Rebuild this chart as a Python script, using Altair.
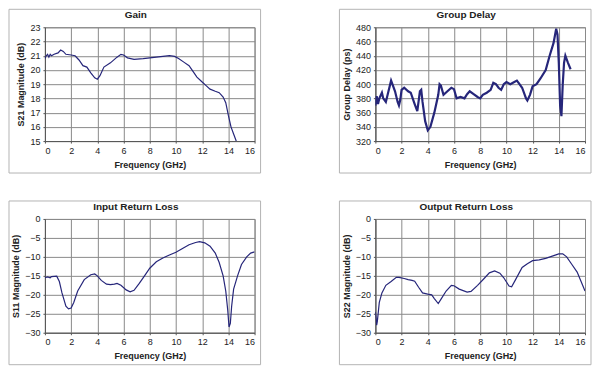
import altair as alt
import pandas as pd

# ---------------- data ----------------
gain_f = [0.0, 0.1, 0.2, 0.3, 0.4, 0.5, 0.7, 1.0, 1.2, 1.4, 1.6, 2.0, 2.3, 2.6, 2.9, 3.2, 3.5, 3.8,
          4.0, 4.2, 4.5, 5.0, 5.5, 5.8, 6.0, 6.3, 6.8, 7.5, 8.0, 8.5, 9.0, 9.5, 9.9, 10.2, 10.6,
          11.0, 11.3, 11.6, 12.0, 12.3, 12.6, 13.0, 13.3, 13.6, 13.8, 14.0, 14.2, 14.4, 14.6]
gain_v = [20.8, 21.0, 21.1, 20.9, 21.1, 21.0, 21.1, 21.2, 21.4, 21.3, 21.1, 21.05, 21.0, 20.7, 20.3,
          20.2, 19.8, 19.45, 19.35, 19.6, 20.2, 20.5, 20.9, 21.1, 21.05, 20.85, 20.75, 20.8, 20.85,
          20.9, 20.95, 21.0, 20.95, 20.8, 20.55, 20.3, 19.9, 19.5, 19.15, 18.9, 18.65, 18.5, 18.4,
          18.1, 17.7, 16.8, 16.0, 15.5, 15.0]

gd_f = [0.0, 0.1, 0.2, 0.3, 0.5, 0.6, 0.8, 1.0, 1.2, 1.3, 1.5, 1.7, 1.8, 1.9, 2.0, 2.2, 2.5, 2.7,
        3.0, 3.2, 3.4, 3.5, 3.6, 3.8, 4.0, 4.2, 4.5, 4.8, 4.9, 5.0, 5.2, 5.5, 5.8, 6.0, 6.2, 6.5,
        6.8, 7.0, 7.2, 7.5, 7.8, 8.0, 8.2, 8.5, 8.8, 9.0, 9.2, 9.4, 9.6, 9.8, 10.0, 10.3, 10.5,
        10.8, 11.0, 11.2, 11.5, 11.6, 11.8, 12.0, 12.3, 12.6, 13.0, 13.3, 13.6, 13.8, 13.9, 14.0,
        14.1, 14.2, 14.3, 14.4, 14.5, 14.7, 14.9]
gd_v = [370, 383, 372, 380, 388, 380, 375, 390, 405, 400, 390, 375, 370, 378, 392, 395, 390, 388,
        372, 362, 390, 392, 375, 348, 335, 340, 360, 385, 400, 398, 385, 390, 395, 393, 380, 382,
        380, 386, 390, 386, 382, 380, 385, 388, 392, 402, 400, 395, 392, 400, 403, 400, 402,
        405, 400, 395, 380, 377, 385, 397, 400, 408, 420, 440, 458, 478, 470, 430,
        370, 355, 400, 430, 440, 430, 421]

s11_f = [0.0, 0.2, 0.4, 0.5, 0.9, 1.1, 1.3, 1.6, 1.8, 2.0, 2.2, 2.5, 3.0, 3.5, 3.8, 4.0, 4.3, 4.7,
         5.0, 5.3, 5.5, 5.8, 6.2, 6.5, 6.8, 7.2, 7.6, 8.0, 8.5, 9.0, 9.5, 10.0, 10.5, 11.0, 11.5,
         11.8, 12.2, 12.6, 13.0, 13.3, 13.6, 13.8, 13.95, 14.05, 14.15, 14.25, 14.4, 14.7, 15.0,
         15.4, 15.7, 16.0]
s11_v = [-15.5, -15.3, -15.5, -15.2, -15.1, -16.5, -19.5, -23.0, -23.7, -23.5, -22.0, -19.0, -16.0,
         -14.7, -14.5, -15.0, -16.2, -17.2, -17.3, -17.2, -17.0, -17.5, -18.7, -19.2, -18.8, -17.0,
         -15.0, -13.0, -11.3, -10.3, -9.5, -8.8, -7.8, -6.8, -6.2, -6.0, -6.3, -7.2, -9.0, -11.5,
         -15.0, -19.0, -24.0, -28.5, -27.5, -23.0, -18.5, -15.0, -12.0, -10.0, -9.0, -8.7]

s22_f = [0.0, 0.05, 0.1, 0.15, 0.3, 0.5, 0.8, 1.2, 1.6, 1.8, 2.2, 2.5, 2.8, 3.0, 3.3, 3.6, 4.0,
         4.3, 4.5, 4.8, 5.0, 5.4, 5.8, 6.0, 6.4, 7.0, 7.3, 7.8, 8.3, 8.7, 9.1, 9.5, 9.8, 10.2, 10.4,
         10.7, 11.2, 11.6, 12.0, 12.5, 13.0, 13.5, 14.0, 14.3, 14.6, 15.0, 15.4, 15.7, 16.0]
s22_v = [-24.5, -26.0, -28.0, -27.0, -22.0, -19.5, -17.5, -16.5, -15.4, -15.4, -15.7, -16.0, -16.2,
         -16.4, -18.0, -19.5, -19.8, -20.0, -21.0, -22.3, -21.2, -19.0, -17.5, -17.6, -18.5, -19.3,
         -19.1, -17.5, -15.7, -14.2, -13.7, -14.3, -15.5, -17.7, -17.9, -16.0, -12.8, -11.8, -11.0,
         -10.8, -10.4, -9.8, -9.2, -9.2, -10.0, -12.0, -14.0, -16.5, -19.0]

x_ticks = [0, 2, 4, 6, 8, 10, 12, 14, 16]
titles = ["Gain", "Group Delay", "Input Return Loss", "Output Return Loss"]
y_titles = ["S21 Magnitude (dB)", "Group Delay (ps)", "S11 Magnitude (dB)", "S22 Magnitude (dB)"]

# ---------------- styling ----------------
W, H = 210, 114
FONT = "Liberation Sans"
LINE = "#26267a"
BOX = "#b4b4b4"
BL, BR, BT, BB = -36, W + 6, -18, H + 32  # frame around each panel (pixels, relative to plot)

one = pd.DataFrame({"a": [0]})


def frame():
    top = alt.Chart(one).mark_rule(color=BOX).encode(
        x=alt.value(BL), x2=alt.value(BR), y=alt.value(BT))
    bot = alt.Chart(one).mark_rule(color=BOX).encode(
        x=alt.value(BL), x2=alt.value(BR), y=alt.value(BB))
    left = alt.Chart(one).mark_rule(color=BOX).encode(
        x=alt.value(BL), y=alt.value(BT), y2=alt.value(BB))
    right = alt.Chart(one).mark_rule(color=BOX).encode(
        x=alt.value(BR), y=alt.value(BT), y2=alt.value(BB))
    return [top, bot, left, right]


def panel(fs, vs, title, ytitle, ydom, yticks, sw=1.2):
    df = pd.DataFrame({"f": fs, "v": vs})
    line = alt.Chart(df).mark_line(color=LINE, strokeWidth=sw, clip=True).encode(
        x=alt.X("f:Q", scale=alt.Scale(domain=[0, 16], nice=False),
                axis=alt.Axis(values=x_ticks, title="Frequency (GHz)")),
        y=alt.Y("v:Q", scale=alt.Scale(domain=ydom, nice=False),
                axis=alt.Axis(values=yticks, title=ytitle)),
    )
    ttl = alt.Chart(pd.DataFrame({"t": [title]})).mark_text(
        font=FONT, fontSize=10, fontWeight="bold", color="#222",
        align="center", baseline="middle",
    ).encode(text="t:N", x=alt.value(W / 2 - 14), y=alt.value(-12))
    return alt.layer(*frame(), line, ttl).properties(width=W, height=H)


p1 = panel(gain_f, gain_v, titles[0], y_titles[0], [15, 23], list(range(15, 24)))
p2 = panel(gd_f, gd_v, titles[1], y_titles[1], [320, 480],
           list(range(320, 481, 20)), sw=2.2)
p3 = panel(s11_f, s11_v, titles[2], y_titles[2], [-30, 0], list(range(-30, 1, 5)))
p4 = panel(s22_f, s22_v, titles[3], y_titles[3], [-30, 0], list(range(-30, 1, 5)))

chart = alt.concat(
    p1, p2, p3, p4, columns=2, bounds="flush",
    spacing=alt.RowColnumber(row=78, column=121),
).properties(
    padding=0,
).configure_view(
    stroke="#888888", strokeWidth=1,
).configure_axis(
    labelFont=FONT, titleFont=FONT, labelFontSize=9, titleFontSize=9,
    titleFontWeight="bold", labelColor="#222", titleColor="#222",
    gridColor="#8a8a8a", gridWidth=1, gridOpacity=1,
    domainColor="#555", tickColor="#555", tickSize=2, labelPadding=3,
).configure_axisY(
    titlePadding=4,
).configure_axisX(
    titlePadding=5,
)

chart.save("out.html", embed_options={"renderer": "svg", "actions": False})
